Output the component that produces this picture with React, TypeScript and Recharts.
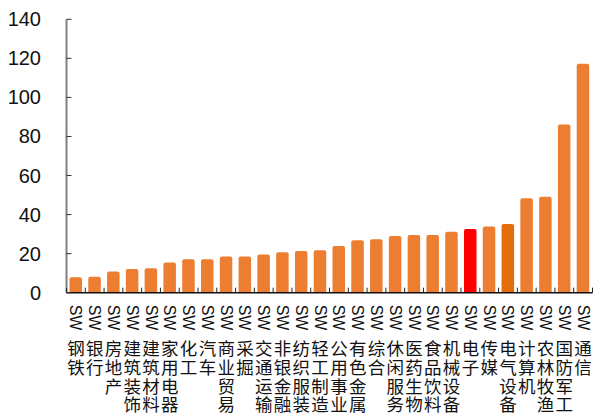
import React from "react";
import { Bar, BarChart, Cell, XAxis, YAxis } from "recharts";

const W = 597;
const H = 417;
const Y_AXIS_W = 66.5;
const X_AXIS_H = 30;
const MARGIN = { top: 19.3, right: 4.5, bottom: 124.3 - X_AXIS_H, left: 0 };

// 申万一级行业
const industries = [
  "SW钢铁", "SW银行", "SW房地产", "SW建筑装饰", "SW建筑材料", "SW家用电器", "SW化工",
  "SW汽车", "SW商业贸易", "SW采掘", "SW交通运输", "SW非银金融", "SW纺织服装", "SW轻工制造",
  "SW公用事业", "SW有色金属", "SW综合", "SW休闲服务", "SW医药生物", "SW食品饮料", "SW机械设备",
  "SW电子", "SW传媒", "SW电气设备", "SW计算机", "SW农林牧渔", "SW国防军工", "SW通信",
];
const values = [
  7.9, 8.2, 10.9, 12.1, 12.5, 15.5, 17.1, 17.1, 18.6, 18.6, 19.6, 20.7, 21.3, 21.8,
  23.9, 26.9, 27.4, 29.0, 29.5, 29.5, 31.2, 32.6, 33.9, 35.2, 48.4, 49.1, 86.1, 117.3,
];
const yTicks = [0, 20, 40, 60, 80, 100, 120, 140];

const highlight: Record<string, string> = {
  "SW电子": "#FF0000",
  "SW电气设备": "#E46C0A",
};
const BASE = "#ED7D31";

const data = industries.map((name, i) => ({ name, v: values[i] }));
const halfBand = (W - Y_AXIS_W - MARGIN.right) / industries.length / 2;

// "SW" 竖排旋转，中文逐字竖排
function XTick(props: any) {
  const { x, y, payload, index } = props;
  const name: string = payload.value;
  const chars = name.slice(2).split("");
  return (
    <g>
      <line x1={x - halfBand} x2={x - halfBand} y1={y} y2={y - 5} stroke="#222" strokeWidth={1} />
      {index === industries.length - 1 && (
        <line x1={x + halfBand} x2={x + halfBand} y1={y} y2={y - 5} stroke="#222" strokeWidth={1} />
      )}
      <text
        x={x}
        y={y + 12}
        transform={`rotate(90, ${x}, ${y + 12})`}
        textAnchor="start"
        dominantBaseline="central"
        fontFamily="Liberation Sans, Arial, sans-serif"
        fontSize={16}
        fill="#111"
      >
        SW
      </text>
      <text
        x={x}
        y={y + 54}
        textAnchor="middle"
        dominantBaseline="central"
        fontFamily="Noto Sans CJK SC, sans-serif"
        fontSize={17.5}
        fill="#111"
      >
        {chars.map((c, i) => (
          <tspan key={i} x={x} dy={i === 0 ? 0 : 18.9}>
            {c}
          </tspan>
        ))}
      </text>
    </g>
  );
}

function YTick(props: any) {
  const { x, y, payload } = props;
  return (
    <g>
      <line x1={x} x2={x + 5} y1={y} y2={y} stroke="#333" strokeWidth={1} />
      <text
        x={x - 25.5}
        y={y}
        textAnchor="end"
        dominantBaseline="central"
        fontFamily="Liberation Sans, Arial, sans-serif"
        fontSize={20}
        fill="#111"
      >
        {payload.value}
      </text>
    </g>
  );
}

export default function App() {
  return (
    <div style={{ position: "absolute", left: 0, top: 0, width: W, height: H, background: "#fff" }}>
      <BarChart width={W} height={H} data={data} margin={MARGIN}>
        <XAxis
          dataKey="name"
          height={X_AXIS_H}
          interval={0}
          tickLine={false}
          tickSize={0}
          tickMargin={0}
          axisLine={{ stroke: "#111", strokeWidth: 1.5 }}
          tick={<XTick />}
        />
        <YAxis
          width={Y_AXIS_W}
          domain={[0, 140]}
          ticks={yTicks}
          interval={0}
          tickLine={false}
          tickSize={0}
          tickMargin={0}
          axisLine={{ stroke: "#808080", strokeWidth: 2 }}
          tick={<YTick />}
        />
        <Bar dataKey="v" barSize={12.5} radius={[2, 2, 0, 0]} isAnimationActive={false}>
          {data.map((d) => (
            <Cell key={d.name} fill={highlight[d.name] ?? BASE} />
          ))}
        </Bar>
      </BarChart>
    </div>
  );
}
